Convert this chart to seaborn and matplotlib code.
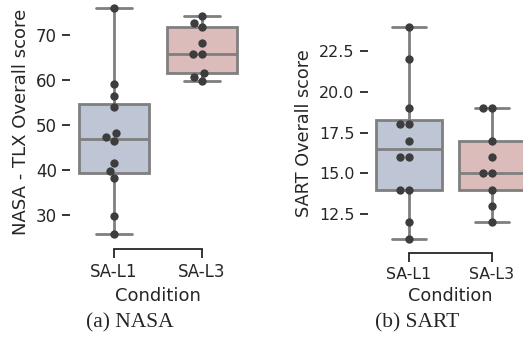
import seaborn as sns
import matplotlib.pyplot as plt
import pandas as pd

conditions = ["SA-L1", "SA-L3"]
box_colors = ["#bec6d6", "#dcbcbb"]

nasa_l1 = [75.9, 59.1, 56.5, 54.1, 48.3, 47.4, 46.5, 41.6, 39.8, 38.2, 29.8, 25.7]
nasa_l3 = [74.3, 72.6, 71.7, 68.3, 65.8, 65.8, 61.6, 60.7, 59.8]
sart_l1 = [24, 22, 19, 18, 18, 17, 16, 16, 14, 14, 12, 11]
sart_l3 = [19, 19, 17, 16, 15, 15, 14, 13, 12]


def make_frame(l1, l3, col):
    return pd.DataFrame({
        "Condition": ["SA-L1"] * len(l1) + ["SA-L3"] * len(l3),
        col: l1 + l3,
    })


nasa = make_frame(nasa_l1, nasa_l3, "NASA - TLX Overall score")
sart = make_frame(sart_l1, sart_l3, "SART Overall score")

sns.set_theme(style="ticks")
plt.rcParams["font.family"] = ["DejaVu Sans"]

W, H = 523, 353
fig = plt.figure(figsize=(W / 100, H / 100), dpi=100)


def px_axes(left, right, top, bottom):
    return fig.add_axes([left / W, 1 - bottom / H, (right - left) / W, (bottom - top) / H])


ax1 = px_axes(70, 246, -2.8, 245.6)
ax2 = px_axes(367.5, 533.5, 15.9, 249.4)

panels = [
    (ax1, nasa, "NASA - TLX Overall score", 12, 13),
    (ax2, sart, "SART Overall score", 11.4, 12.7),
]
for ax, df, col, tick_fs, label_fs in panels:
    sns.boxplot(data=df, x="Condition", y=col, hue="Condition", order=conditions,
                palette=box_colors, saturation=1, linecolor="#7f7f7f", linewidth=2,
                width=0.8, showfliers=False, legend=False, ax=ax)
    sns.swarmplot(data=df, x="Condition", y=col, order=conditions, color="#3d3d3d",
                  size=6, ax=ax)
    ax.set_xlim(-0.5, 1.5)
    ax.spines["left"].set_visible(False)
    ax.spines["top"].set_visible(False)
    ax.spines["right"].set_visible(False)
    ax.spines["bottom"].set_bounds(0, 1)
    ax.spines["bottom"].set_position(("outward", 2.5))
    ax.spines["bottom"].set_color("#262626")
    ax.spines["bottom"].set_linewidth(1.3)
    ax.tick_params(axis="both", labelsize=tick_fs, length=6, width=1.3, colors="#262626")
    ax.tick_params(axis="x", length=6.5)
    ax.xaxis.label.set_size(label_fs)
    ax.yaxis.label.set_size(label_fs)

ax1.set_ylim(23.2, 78.4)
ax1.set_yticks([30, 40, 50, 60, 70])
ax2.set_ylim(10.35, 24.65)
ax2.set_yticks([12.5, 15.0, 17.5, 20.0, 22.5])

fig.text(130 / W, 1 - 323 / H, "(a) NASA", ha="center", va="center",
         family="Liberation Serif", fontsize=15.5)
fig.text(417 / W, 1 - 323 / H, "(b) SART", ha="center", va="center",
         family="Liberation Serif", fontsize=15.5)

fig.savefig("out.png", dpi=100)
